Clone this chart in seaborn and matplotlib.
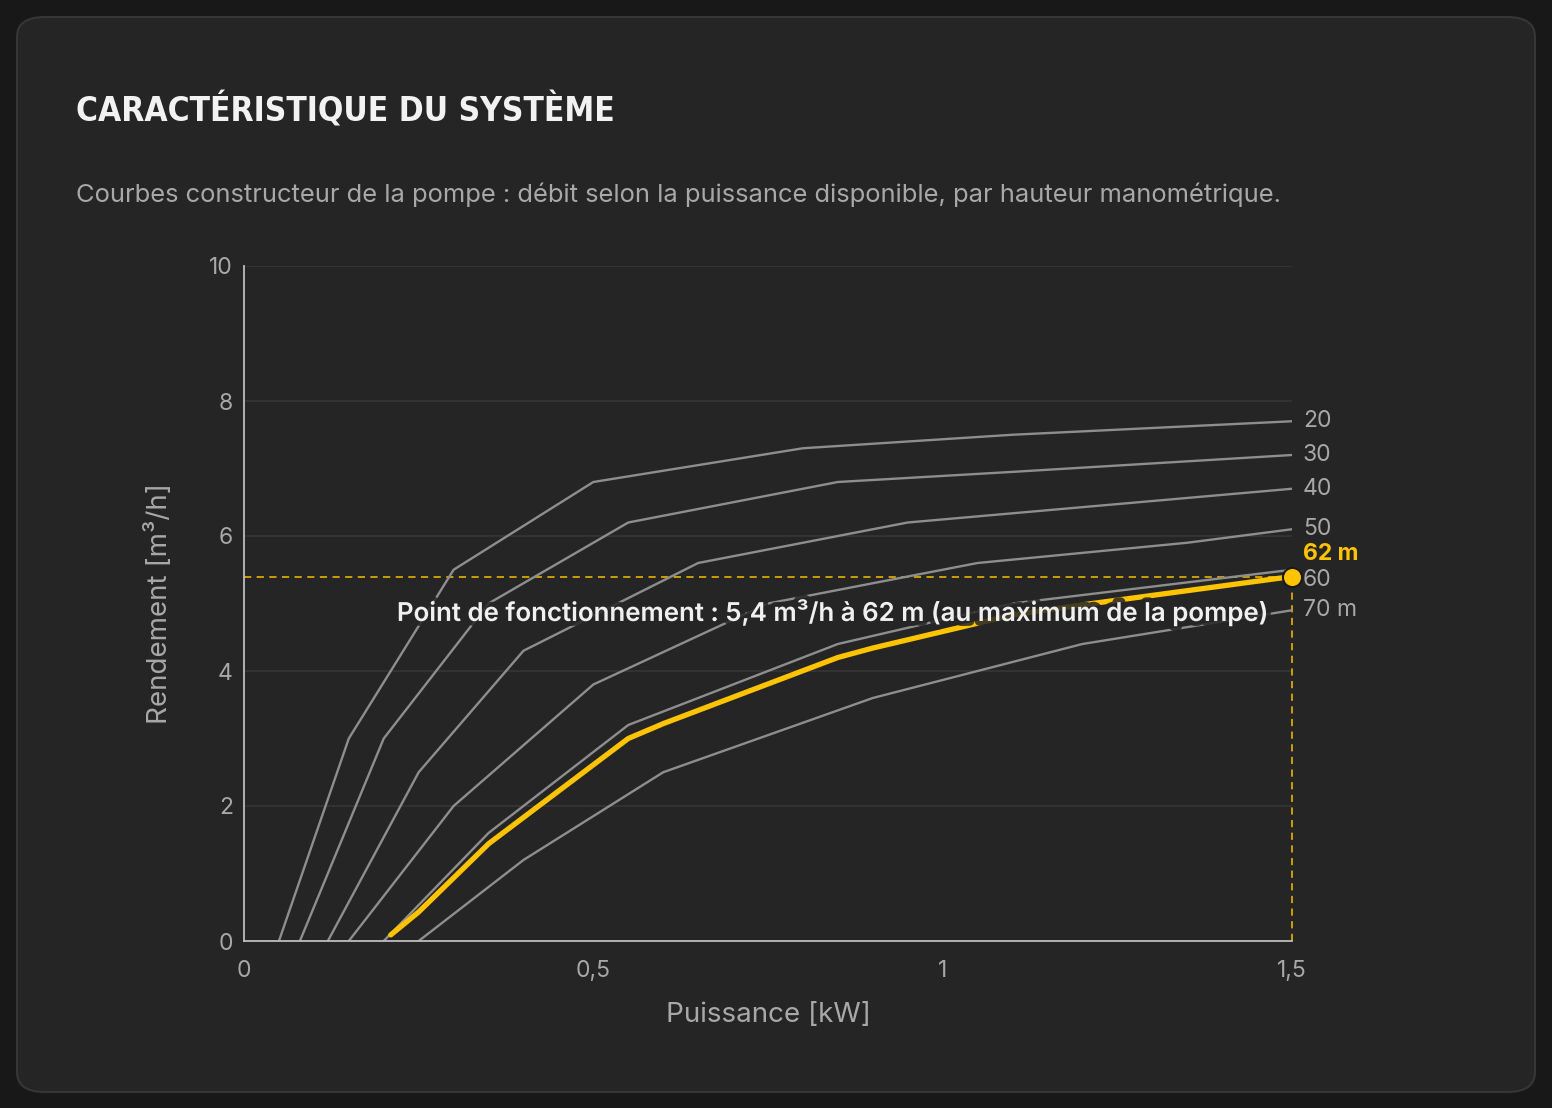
import numpy as np
import pandas as pd
import matplotlib
matplotlib.use("Agg")
import matplotlib.pyplot as plt
import matplotlib.patheffects as pe
from matplotlib.patches import FancyBboxPatch
from matplotlib.ticker import FuncFormatter
import seaborn as sns

# pump curves: power (kW) -> flow (m3/h), one per head (m)
power_20 = [0.05, 0.15, 0.3, 0.5, 0.8, 1.1, 1.5]
flow_20 = [0, 3.0, 5.5, 6.8, 7.3, 7.5, 7.7]
power_30 = [0.08, 0.2, 0.35, 0.55, 0.85, 1.1, 1.5]
flow_30 = [0, 3.0, 5.0, 6.2, 6.8, 6.95, 7.2]
power_40 = [0.12, 0.25, 0.4, 0.65, 0.95, 1.5]
flow_40 = [0, 2.5, 4.3, 5.6, 6.2, 6.7]
power_50 = [0.15, 0.3, 0.5, 0.75, 1.05, 1.35, 1.5]
flow_50 = [0, 2.0, 3.8, 5.0, 5.6, 5.9, 6.1]
power_60 = [0.2, 0.35, 0.55, 0.85, 1.1, 1.5]
flow_60 = [0, 1.6, 3.2, 4.4, 5.0, 5.5]
power_70 = [0.25, 0.4, 0.6, 0.9, 1.2, 1.5]
flow_70 = [0, 1.2, 2.5, 3.6, 4.4, 4.9]

# operating curve at 62 m
power_62 = [0.21, 0.25, 0.35, 0.55, 0.6, 0.85, 0.9, 1.1, 1.2, 1.5]
flow_62 = [0.09, 0.43, 1.44, 3.0, 3.22, 4.2, 4.34, 4.83, 4.98, 5.4]

heads = ["20", "30", "40", "50", "60", "70 m"]
op_power = 1.5
op_flow = 5.4

BG = "#181818"
CARD = "#252525"
GREY = "#8e8e8e"
YELLOW = "#ffc300"
TXT = "#a8a8a8"

sns.set_theme(style="dark")
plt.rcParams["font.family"] = ["Inter", "DejaVu Sans"]

fig = plt.figure(figsize=(15.52, 11.08), dpi=100, facecolor=BG)
card = FancyBboxPatch((17 / 1552, 1 - 1092 / 1108), (1535 - 17) / 1552, (1092 - 17) / 1108,
                      boxstyle="round,pad=0,rounding_size=0.018", transform=fig.transFigure,
                      facecolor=CARD, edgecolor="#363636", linewidth=1.5, zorder=-5)
fig.patches.append(card)

fig.text(76 / 1552, 1 - 110 / 1108, "CARACTÉRISTIQUE DU SYSTÈME", color="#f2f2f2",
         fontsize=24, fontweight="bold", fontstretch="condensed", va="center", ha="left",
         family=["DejaVu Sans"])
fig.text(76 / 1552, 1 - 195 / 1108,
         "Courbes constructeur de la pompe : débit selon la puissance disponible, par hauteur manométrique.",
         color=TXT, fontsize=18.4, va="center", ha="left")

ax = fig.add_axes([244 / 1552, 1 - 941 / 1108, (1292 - 244) / 1552, (941 - 266) / 1108])
ax.set_facecolor(CARD)

curves = [(power_20, flow_20), (power_30, flow_30), (power_40, flow_40),
          (power_50, flow_50), (power_60, flow_60), (power_70, flow_70)]
rows = []
for h, (p, q) in zip(heads, curves):
    for x, y in zip(p, q):
        rows.append({"head": h, "power": x, "flow": y})
df = pd.DataFrame(rows)

sns.lineplot(data=df, x="power", y="flow", hue="head", units="head", estimator=None,
             sort=False, palette={h: GREY for h in heads}, linewidth=1.7, legend=False,
             ax=ax, zorder=3)
sns.lineplot(x=power_62, y=flow_62, color=YELLOW, linewidth=3.8, sort=False,
             estimator=None, ax=ax, zorder=4, solid_capstyle="round")

ax.axhline(op_flow, color="#d9a800", linestyle=(0, (4, 3)), linewidth=1.3, zorder=2)
ax.plot([op_power, op_power], [0, op_flow], color="#d9a800", linestyle=(0, (4, 3)),
        linewidth=1.3, zorder=2, clip_on=False)
ax.scatter([op_power], [op_flow], s=190, color=YELLOW, edgecolor="#1a1a1a",
           linewidth=1.5, zorder=6, clip_on=False)

ax.text(1.468, 4.86, "Point de fonctionnement : 5,4 m³/h à 62 m (au maximum de la pompe)",
        color="#f0f0f0", fontsize=18.6, fontweight="semibold", ha="right", va="center", zorder=5,
        path_effects=[pe.withStroke(linewidth=7, foreground=CARD, alpha=0.85)])

# curve end labels
label_off = {"20": 0, "30": 0, "40": 0, "50": 0, "60": -10, "70 m": 0}
for h, (p, q) in zip(heads, curves):
    ax.annotate(h, xy=(p[-1], q[-1]), xytext=(11, label_off[h]), textcoords="offset pixels",
                color=TXT, fontsize=16.5, ha="left", va="center", annotation_clip=False)
ax.annotate("62 m", xy=(op_power, op_flow), xytext=(11, 23), textcoords="offset pixels",
            color=YELLOW, fontsize=16.5, fontweight="bold", ha="left", va="center",
            annotation_clip=False)

ax.set_xlim(0, 1.5)
ax.set_ylim(0, 10)
ax.set_xticks([0, 0.5, 1, 1.5])
ax.set_yticks([0, 2, 4, 6, 8, 10])
ax.xaxis.set_major_formatter(FuncFormatter(lambda v, _: f"{v:g}".replace(".", ",")))
ax.tick_params(axis="x", colors=TXT, labelsize=16.5, length=5, color="#3a3a3a", pad=9)
ax.tick_params(axis="y", colors=TXT, labelsize=16.5, length=0, pad=8)
ax.grid(axis="y", color="#353535", linewidth=1.2)
ax.grid(axis="x", visible=False)
for s in ["top", "right"]:
    ax.spines[s].set_visible(False)
for s in ["left", "bottom"]:
    ax.spines[s].set_visible(True)
    ax.spines[s].set_color("#bdbdbd")
    ax.spines[s].set_linewidth(1.3)
    ax.spines[s].set_zorder(7)

ax.set_xlabel("Puissance [kW]", color=TXT, fontsize=20, labelpad=14)
ax.set_ylabel("Rendement [m³/h]", color=TXT, fontsize=20, labelpad=26)

fig.savefig("out.png", dpi=100, facecolor=BG)
